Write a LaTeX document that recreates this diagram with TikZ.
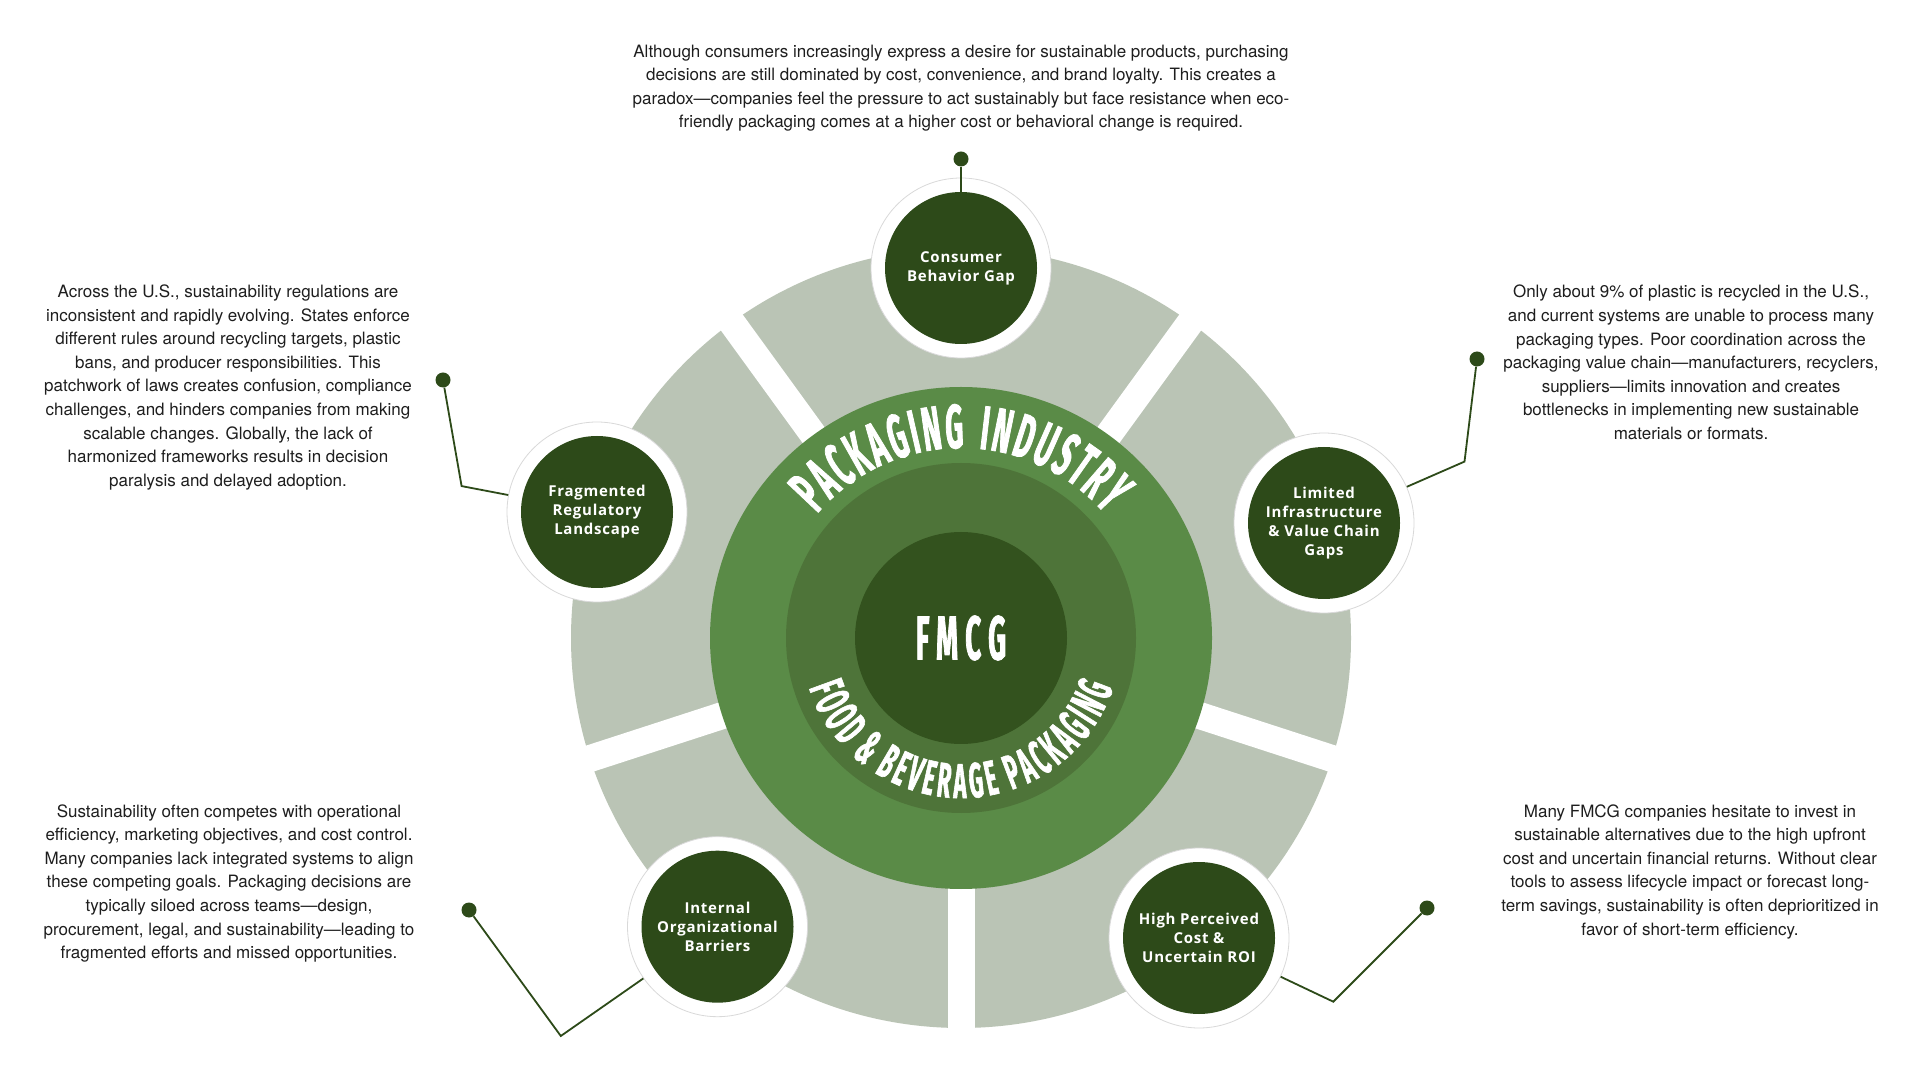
\documentclass[tikz,border=0pt]{standalone}
\usepackage{fontspec}
\setmainfont{TeX Gyre Heros}
\newfontfamily\badgefont[LetterSpace=5]{Open Sans}
\newfontfamily\pkgfont[FakeStretch=0.45, FakeBold=1.2]{Fira Sans}
\usetikzlibrary{decorations.text}

\definecolor{sage}{HTML}{BAC4B5}
\definecolor{leafA}{HTML}{5A8B47}
\definecolor{leafB}{HTML}{4E7439}
\definecolor{leafC}{HTML}{33521E}
\definecolor{forest}{HTML}{2D4A19}
\definecolor{ink}{HTML}{1E1E1E}

\begin{document}
\begin{tikzpicture}[x=1pt, y=1pt,
    ring/.style={circle, fill=white, draw=black!15, line width=.8pt, minimum size=180pt, inner sep=0pt},
    badge/.style={circle, fill=forest, text=white, minimum size=152pt, inner sep=0pt, align=center,
      font=\badgefont\bfseries\fontsize{15}{19}\selectfont},
    dot/.style={circle, fill=forest, minimum size=15pt, inner sep=0pt},
    link/.style={forest, line width=1.8pt},
    note/.style={text=ink, align=center, font=\fontsize{17}{23.6}\selectfont},
  ]
  \fill[white, use as bounding box] (0,0) rectangle (1920,1080);
  \coordinate (ctr) at (961,442);

  % grey wheel, cut in five
  \fill[sage] (ctr) circle (390pt);
  \foreach \a in {54,126,198,270,342}
    \draw[white, line width=27pt] (ctr) -- ++(\a:410pt);

  % green rings
  \fill[leafA] (ctr) circle (251pt);
  \fill[leafB] (ctr) circle (175pt);
  \node[circle, fill=leafC, minimum size=212pt, inner sep=0pt, text=white,
    font=\pkgfont\bfseries\fontsize{62}{62}\selectfont\addfontfeature{LetterSpace=12}] (fmcg) at (ctr) {FMCG};
  \path[decorate, decoration={text along path, text color=white, text align=center,
      text={|\pkgfont\bfseries\fontsize{62}{62}\selectfont|P{\kern2.5pt}A{\kern2.5pt}C{\kern2.5pt}K{\kern2.5pt}A{\kern2.5pt}G{\kern2.5pt}I{\kern2.5pt}N{\kern2.5pt}G{\kern15pt}I{\kern2.5pt}N{\kern2.5pt}D{\kern2.5pt}U{\kern2.5pt}S{\kern2.5pt}T{\kern2.5pt}R{\kern2.5pt}Y}}]
    (ctr) ++(160:190pt) arc[start angle=160, end angle=20, radius=190pt];
  \path[decorate, decoration={text along path, text color=white, text align=center,
      text={|\pkgfont\bfseries\fontsize{49}{49}\selectfont|F{\kern4.2pt}O{\kern4.2pt}O{\kern4.2pt}D{\kern12pt}{\&}{\kern12pt}B{\kern4.2pt}E{\kern4.2pt}V{\kern4.2pt}E{\kern4.2pt}R{\kern4.2pt}A{\kern4.2pt}G{\kern4.2pt}E{\kern12pt}P{\kern4.2pt}A{\kern4.2pt}C{\kern4.2pt}K{\kern4.2pt}A{\kern4.2pt}G{\kern4.2pt}I{\kern4.2pt}N{\kern4.2pt}G}}]
    (ctr) ++(190:160pt) arc[start angle=190, end angle=350, radius=160pt];

  % badges
  \node[ring] (ringC) at (961,812) {};
  \node[badge] (badgeC) at (961,812) {Consumer\\Behavior Gap};
  \node[ring] (ringF) at (597,568) {};
  \node[badge] (badgeF) at (597,568) {Fragmented\\Regulatory\\Landscape};
  \node[ring] (ringL) at (1324,557) {};
  \node[badge] (badgeL) at (1324,557) {Limited\\Infrastructure\\\& Value Chain\\Gaps};
  \node[ring] (ringI) at (717.5,153.3) {};
  \node[badge] (badgeI) at (717.5,153.3) {Internal\\Organizational\\Barriers};
  \node[ring] (ringH) at (1199,142) {};
  \node[badge] (badgeH) at (1199,142) {High Perceived\\Cost \&\\Uncertain ROI};

  % pins
  \node[dot] (dotC) at (961,921) {};
  \node[dot] (dotF) at (443,700) {};
  \node[dot] (dotL) at (1477,721) {};
  \node[dot] (dotI) at (469,170) {};
  \node[dot] (dotH) at (1427,172) {};
  \coordinate (kneeF) at (461.6,593.9);
  \coordinate (kneeL) at (1464.5,618.4);
  \coordinate (kneeI) at (560.8,44);
  \coordinate (kneeH) at (1333.3,78.3);

  \draw[link] (dotC) -- (badgeC);
  \draw[link] (dotF) -- (kneeF) -- (ringF);
  \draw[link] (dotL) -- (kneeL) -- (ringL);
  \draw[link] (dotI) -- (kneeI) -- (ringI);
  \draw[link] (dotH) -- (kneeH) -- (ringH);

  % notes
  \node[note] (noteC) at (961,991.8) {Although consumers increasingly express a desire for sustainable products, purchasing\\
    decisions are still dominated by cost, convenience, and brand loyalty. This creates a\\
    paradox—companies feel the pressure to act sustainably but face resistance when eco-\\
    friendly packaging comes at a higher cost or behavioral change is required.};
  \node[note] (noteF) at (228,692.5) {Across the U.S., sustainability regulations are\\
    inconsistent and rapidly evolving. States enforce\\
    different rules around recycling targets, plastic\\
    bans, and producer responsibilities. This\\
    patchwork of laws creates confusion, compliance\\
    challenges, and hinders companies from making\\
    scalable changes. Globally, the lack of\\
    harmonized frameworks results in decision\\
    paralysis and delayed adoption.};
  \node[note] (noteL) at (1691,717.6) {Only about 9\% of plastic is recycled in the U.S.,\\
    and current systems are unable to process many\\
    packaging types. Poor coordination across the\\
    packaging value chain—manufacturers, recyclers,\\
    suppliers—limits innovation and creates\\
    bottlenecks in implementing new sustainable\\
    materials or formats.};
  \node[note] (noteI) at (229,196.6) {Sustainability often competes with operational\\
    efficiency, marketing objectives, and cost control.\\
    Many companies lack integrated systems to align\\
    these competing goals. Packaging decisions are\\
    typically siloed across teams—design,\\
    procurement, legal, and sustainability—leading to\\
    fragmented efforts and missed opportunities.};
  \node[note] (noteH) at (1690,208.3) {Many FMCG companies hesitate to invest in\\
    sustainable alternatives due to the high upfront\\
    cost and uncertain financial returns. Without clear\\
    tools to assess lifecycle impact or forecast long-\\
    term savings, sustainability is often deprioritized in\\
    favor of short-term efficiency.};
\end{tikzpicture}
\end{document}
